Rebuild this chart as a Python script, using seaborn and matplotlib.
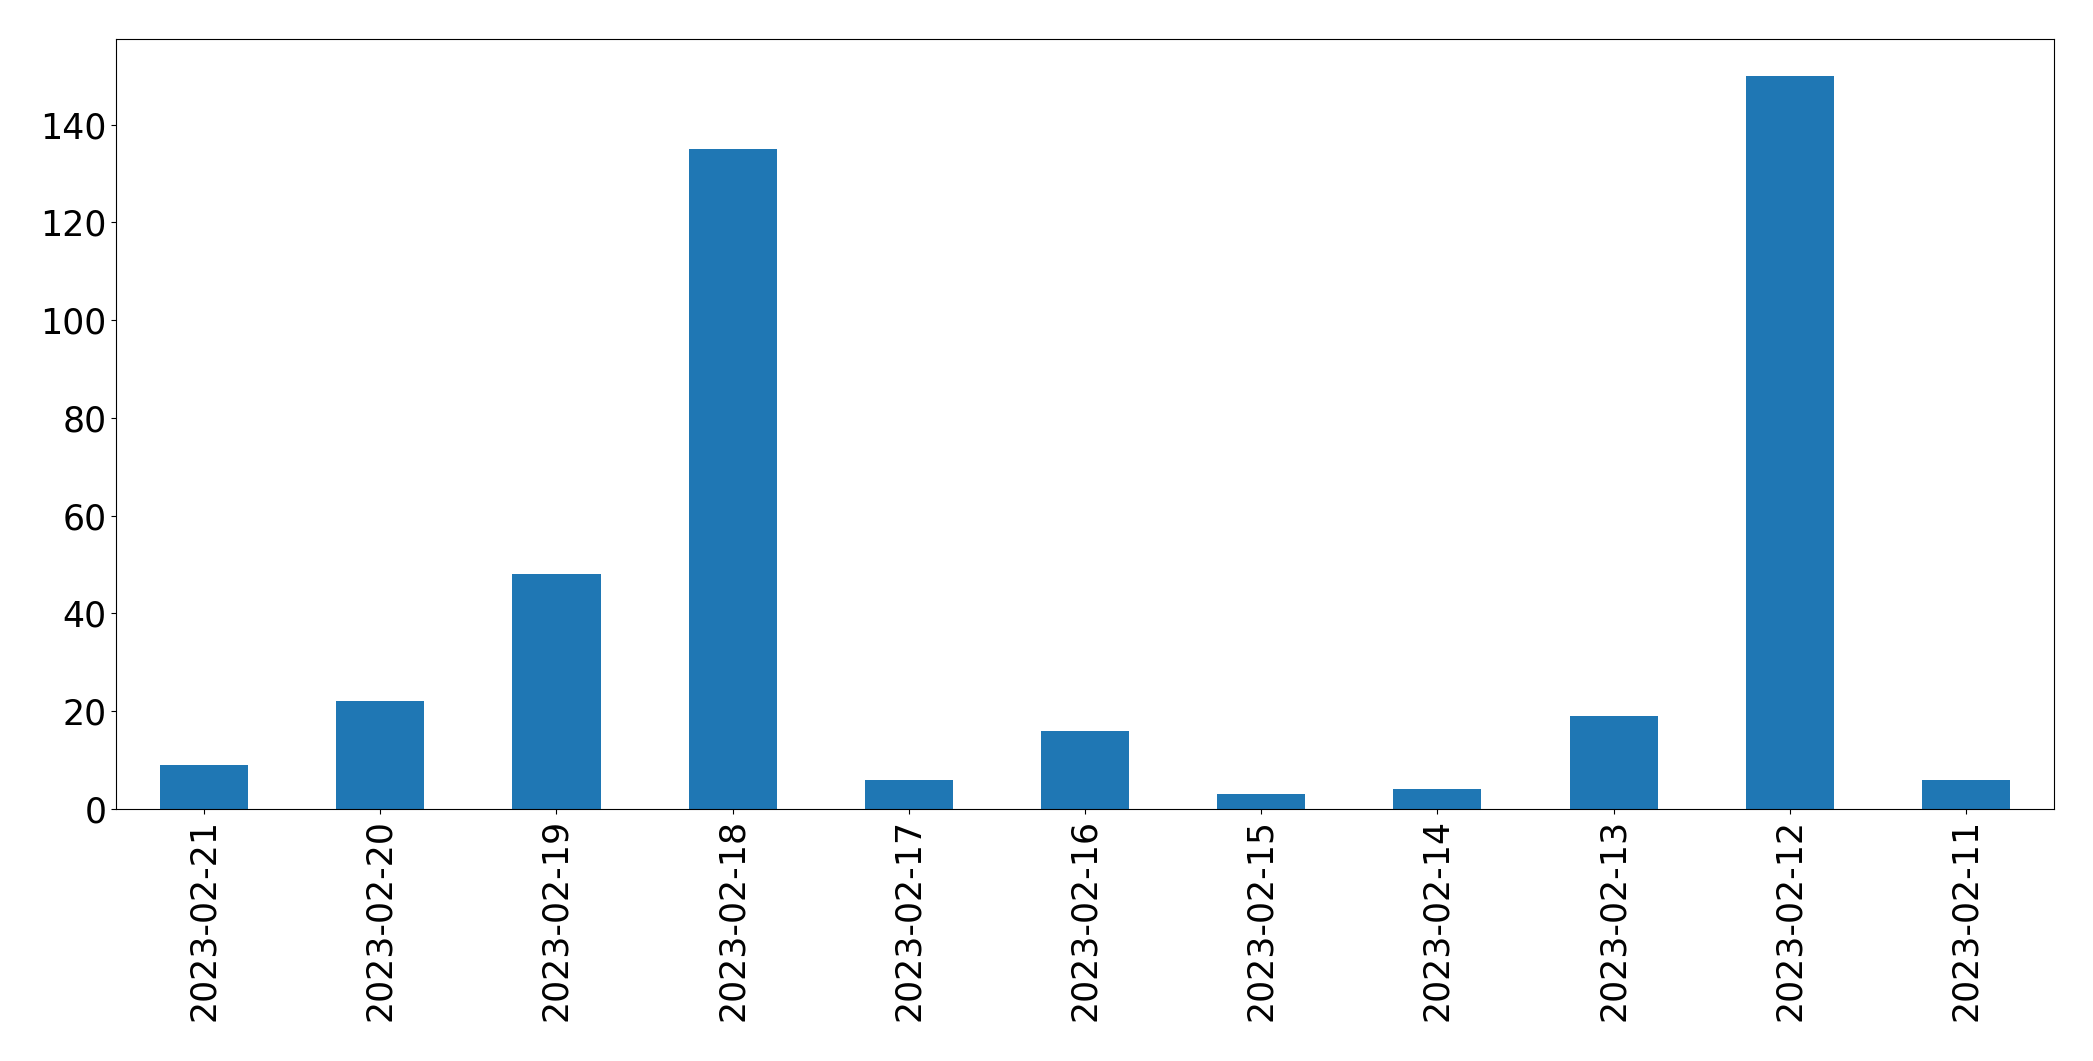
import matplotlib
matplotlib.use("Agg")
import matplotlib.pyplot as plt
import seaborn as sns
import pandas as pd

dates = ["2023-02-21", "2023-02-20", "2023-02-19", "2023-02-18", "2023-02-17",
         "2023-02-16", "2023-02-15", "2023-02-14", "2023-02-13", "2023-02-12",
         "2023-02-11"]
counts = [9, 22, 48, 135, 6, 16, 3, 4, 19, 150, 6]

df = pd.DataFrame({"date": dates, "count": counts})

fig = plt.figure(figsize=(20.93, 10.61), dpi=100)
ax = fig.add_axes([116 / 2093, 1 - 809 / 1061, (2054 - 116) / 2093, (809 - 39) / 1061])

sns.barplot(data=df, x="date", y="count", order=dates, color="#1f77b4",
            saturation=1, width=0.5, linewidth=0, ax=ax)

ax.set_xlim(-0.5, len(dates) - 0.5)
ax.set_ylim(0, max(counts) * 1.05)
ax.set_xlabel("")
ax.set_ylabel("")
ax.tick_params(axis="both", labelsize=25, colors="black")
ax.tick_params(axis="x", labelrotation=90)
for s in ax.spines.values():
    s.set_visible(True)
    s.set_color("black")
    s.set_linewidth(0.8)
ax.grid(False)

fig.savefig("out.png", dpi=100)
